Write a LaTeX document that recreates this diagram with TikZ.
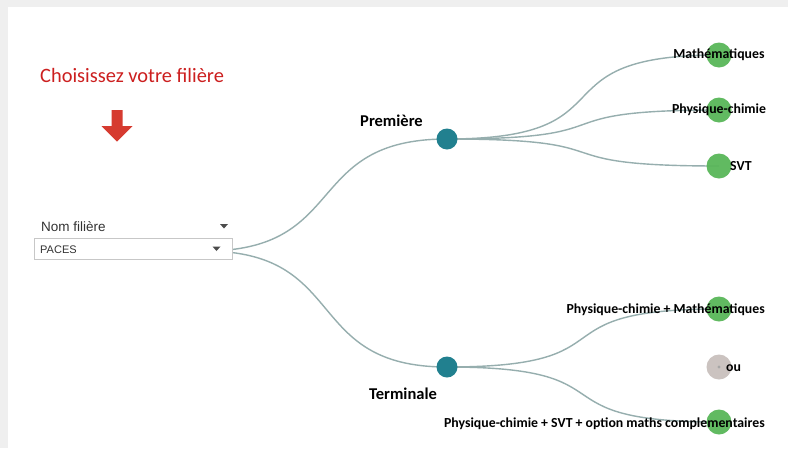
\documentclass[tikz,border=0pt]{standalone}
\usepackage{fontspec}
\newfontfamily\carl{Carlito}
\newfontfamily\arialf{Liberation Sans}
\usetikzlibrary{backgrounds}
\pgfdeclarelayer{edges}
\pgfsetlayers{background,edges,main}
\definecolor{teal1}{HTML}{21808F}
\definecolor{green1}{HTML}{56B556}
\definecolor{gray1}{HTML}{CBC3C0}
\definecolor{edge1}{HTML}{96AEAE}
\definecolor{title1}{HTML}{CC1F1F}
\definecolor{arrow1}{HTML}{D63B30}
\definecolor{strip}{HTML}{EFEFEF}
\tikzset{
  lvl/.style={circle, fill=teal1, minimum size=21pt, inner sep=0pt},
  leaf/.style={circle, fill=green1, fill opacity=0.93, minimum size=25pt, inner sep=0pt},
  leafgray/.style={circle, fill=gray1, minimum size=25pt, inner sep=0pt},
  lab/.style={font=\carl\bfseries\fontsize{13.8}{13.8}\selectfont, text=black, inner sep=0pt},
  lvllab/.style={font=\carl\bfseries\fontsize{16.5}{16.5}\selectfont, text=black, inner sep=0pt},
  link/.style={draw=edge1, line width=1.4pt},
  tri/.style={fill=black!70, draw=none}
}
\begin{document}
\begin{tikzpicture}[x=1pt,y=-1pt]
\useasboundingbox (0,0) rectangle (788,448);
\begin{pgfonlayer}{background}
  \fill[white] (0,0) rectangle (788,448);
  \fill[strip] (0,0) rectangle (788,7);
  \fill[strip] (0,0) rectangle (8,448);
\end{pgfonlayer}

% title and arrow
\node[anchor=west, inner sep=0pt, text=title1, font=\carl\fontsize{20.4}{20.4}\selectfont] (title) at (40,75) {Choisissez votre filière};
\fill[arrow1] (111.5,110) -- (122.5,110) -- (122.5,126) -- (132.5,126) -- (117,141.5) -- (101.5,126) -- (111.5,126) -- cycle;

% filter
\node[anchor=west, inner sep=0pt, text=black!80, font=\arialf\fontsize{13.5}{13.5}\selectfont] (nomf) at (41,227) {Nom filière};
\fill[tri] (220,224) -- (228,224) -- (224,228.5) -- cycle;
\node[draw=black!22, fill=white, anchor=north west, minimum width=198pt, minimum height=21.5pt, inner sep=0pt] (box) at (34.3,237.7) {};
\node[anchor=west, inner sep=0pt, text=black!80, font=\arialf\fontsize{11}{11}\selectfont] (paces) at (40,249.5) {PACES};
\fill[tri] (212.5,246.5) -- (220.5,246.5) -- (216.5,251) -- cycle;
\coordinate (src) at (205,251);

% level nodes
\node[lvl] (prem) at (447,139) {};
\node[lvl] (term) at (447,367) {};
\node[lvllab] (premlab) at (391.5,121) {Première};
\node[lvllab] (termlab) at (403,393.5) {Terminale};

% leaves
\node[leaf] (math) at (719,55) {};
\node[leaf] (pc) at (719,110) {};
\node[leaf] (svt) at (719,166) {};
\node[leaf] (pcm) at (719,309) {};
\node[leafgray] (ou) at (719,367) {};
\fill[black!35] (ou.center) circle (1.6pt);
\node[leaf] (pcs) at (719,422) {};

\node[lab] (mathlab) at (719,55) {Mathématiques};
\node[lab] (pclab) at (719,110) {Physique-chimie};
\node[lab, anchor=west] (svtlab) at (730,166) {SVT};
\node[lab, anchor=east] (pcmlab) at (765,309.5) {Physique-chimie + Mathématiques};
\node[lab, anchor=west] (oulab) at (726,368) {ou};
\node[lab, anchor=east] (pcslab) at (765,424) {Physique-chimie + SVT + option maths complementaires};

% connectors
\begin{pgfonlayer}{edges}
  \draw[link] (src) .. controls +(145,0) and +(-145,0) .. (prem.center);
  \draw[link] (src) .. controls +(145,0) and +(-145,0) .. (term.center);
  \draw[link] (prem.center) .. controls +(190,0) and +(-190,0) .. (math.center);
  \draw[link] (prem.center) .. controls +(190,0) and +(-190,0) .. (pc.center);
  \draw[link] (prem.center) .. controls +(190,0) and +(-190,0) .. (svt.center);
  \draw[link] (term.center) .. controls +(190,0) and +(-190,0) .. (pcm.center);
  \draw[link] (term.center) .. controls +(190,0) and +(-190,0) .. (pcs.center);
\end{pgfonlayer}
\end{tikzpicture}
\end{document}
